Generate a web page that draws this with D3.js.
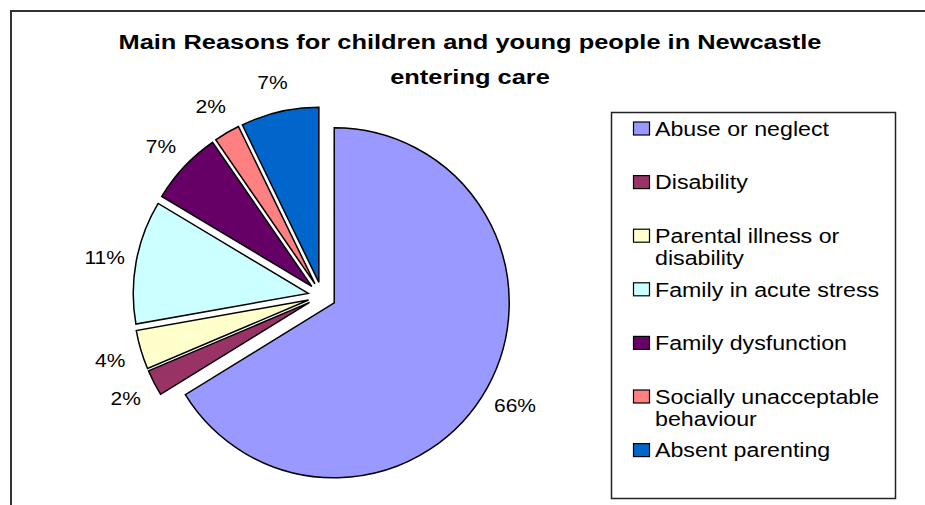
<!DOCTYPE html>
<html>
<head>
<meta charset="utf-8">
<script src="https://cdn.jsdelivr.net/npm/d3@7/dist/d3.min.js"></script>
<style>
  html, body { margin: 0; padding: 0; background: #fff; }
  svg { display: block; }
  text { font-family: "Liberation Sans", Arial, sans-serif; fill: #000; }
</style>
</head>
<body>
<svg id="chart" width="925" height="505"></svg>
<script>
// Reasons for entering care, share of children (%)
const categories = [
  "Abuse or neglect",
  "Disability",
  "Parental illness or disability",
  "Family in acute stress",
  "Family dysfunction",
  "Socially unacceptable behaviour",
  "Absent parenting"
];
const values = [66.2, 2.4, 3.6, 11.4, 6.8, 2.4, 7.2];
const colors = ["#9999FF", "#993366", "#FFFFCC", "#CCFFFF", "#660066", "#FF8080", "#0066CC"];
const titleLines = ["Main Reasons for children and young people in Newcastle", "entering care"];

// text is drawn slightly widened
const stretch = 1.2;

const svg = d3.select("#chart");

// chart frame (top and left edges visible)
svg.append("path")
  .attr("d", "M11,505 L11,11 L925,11")
  .attr("fill", "none")
  .attr("stroke", "#333")
  .attr("stroke-width", 2);

// title
titleLines.forEach((t, i) => {
  svg.append("text")
    .attr("transform", `translate(470,${49 + i * 35}) scale(1.24,1)`)
    .attr("text-anchor", "middle")
    .style("font-weight", "bold")
    .style("font-size", "20.5px")
    .text(t);
});

// pie
const cx = 322, cy = 296, radius = 175, explode = 14;
const total = d3.sum(values);
const pie = d3.pie().sort(null).value(d => d)(values);
const arc = d3.arc().innerRadius(0).outerRadius(radius);

const g = svg.append("g").attr("transform", `translate(${cx},${cy})`);

function dirOf(d) {
  const a = (d.startAngle + d.endAngle) / 2;
  return [Math.sin(a), -Math.cos(a)];
}

const slices = g.selectAll("g.slice")
  .data(pie)
  .join("g")
  .attr("class", "slice")
  .attr("transform", d => {
    const [dx, dy] = dirOf(d);
    return `translate(${dx * explode},${dy * explode})`;
  });

slices.append("path")
  .attr("d", arc)
  .attr("fill", (d, i) => colors[i])
  .attr("stroke", "#000")
  .attr("stroke-width", 1.5)
  .attr("stroke-linejoin", "miter");

slices.append("text")
  .attr("transform", d => {
    const [dx, dy] = dirOf(d);
    return `translate(${dx * (radius + 32)},${dy * (radius + 32) + 2}) scale(${stretch},1)`;
  })
  .attr("text-anchor", "middle")
  .attr("dominant-baseline", "central")
  .style("font-size", "17.5px")
  .text(d => Math.round(d.data / total * 100) + "%");

// legend
const legend = svg.append("g");
legend.append("rect")
  .attr("x", 611.5).attr("y", 112.5)
  .attr("width", 284).attr("height", 386)
  .attr("fill", "#fff")
  .attr("stroke", "#222")
  .attr("stroke-width", 1.5);

const rowY0 = 128.5, rowStep = 53.6, textX = 655, wrapWidth = 236, lineH = 22;
const legendStretch = 1.16;

categories.forEach((name, i) => {
  const y = rowY0 + i * rowStep;
  legend.append("rect")
    .attr("x", 633.5).attr("y", y - 6.5)
    .attr("width", 16).attr("height", 13)
    .attr("fill", colors[i])
    .attr("stroke", "#000")
    .attr("stroke-width", 1.2);

  const t = legend.append("text")
    .attr("transform", `translate(${textX},${y}) scale(${legendStretch},1)`)
    .attr("dominant-baseline", "central")
    .style("font-size", "20px");

  // wrap words onto lines that fit the legend box
  const words = name.split(" ");
  let line = [];
  let lineNo = 0;
  let tspan = t.append("tspan").attr("x", 0).attr("y", 0);
  words.forEach(w => {
    line.push(w);
    tspan.text(line.join(" "));
    if (tspan.node().getComputedTextLength() * legendStretch > wrapWidth && line.length > 1) {
      line.pop();
      tspan.text(line.join(" "));
      line = [w];
      lineNo += 1;
      tspan = t.append("tspan").attr("x", 0).attr("y", lineNo * lineH).text(w);
    }
  });
});
</script>
</body>
</html>
